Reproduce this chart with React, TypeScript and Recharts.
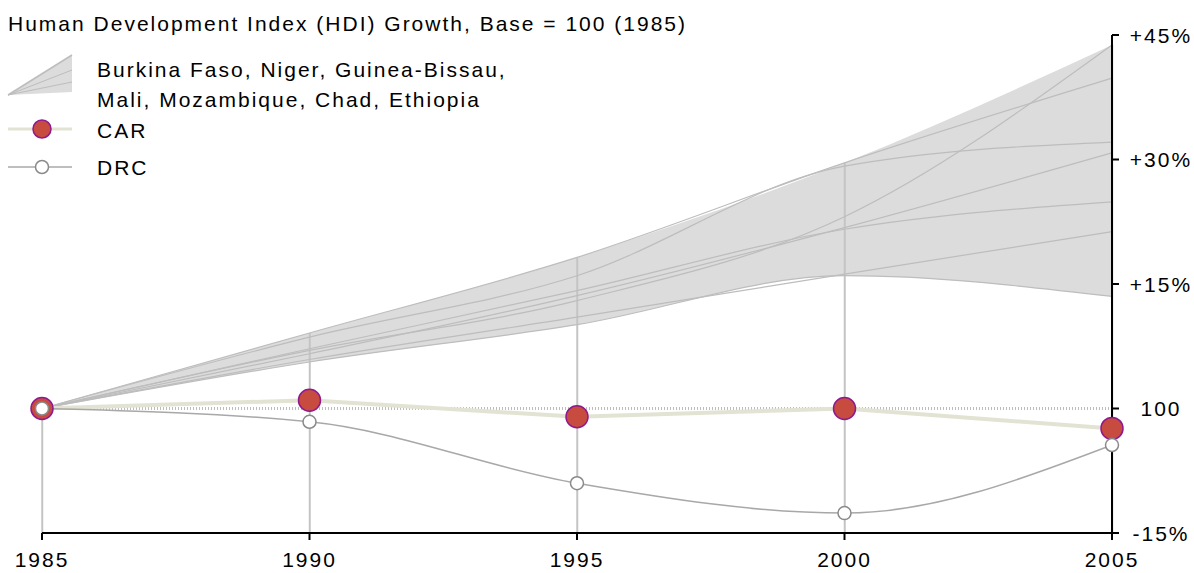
import React from 'react';
import {
  ComposedChart,
  XAxis,
  YAxis,
  Area,
  Line,
  Bar,
  ReferenceLine,
} from 'recharts';

// Data (index growth vs 1985, in %)
const years = [1985, 1990, 1995, 2000, 2005];
const burkinaFaso = [0, 9.1, 18.2, 29.6, 39.8];
const niger = [0, 7.0, 13.0, 23.1, 43.8];
const guineaBissau = [0, 8.6, 16.0, 29.2, 32.1];
const mali = [0, 6.6, 13.6, 21.8, 30.8];
const mozambique = [0, 7.2, 14.2, 21.6, 24.9];
const chad = [0, 5.9, 11.0, 16.2, 21.3];
const ethiopia = [0, 5.6, 10.1, 16.0, 13.5];
const car = [0, 1.0, -1.0, 0.0, -2.4];
const drc = [0, -1.6, -9.0, -12.6, -4.4];
const yTicks = [-15, 0, 15, 30, 45];

const groupKeys = ['burkinaFaso', 'niger', 'guineaBissau', 'mali', 'mozambique', 'chad', 'ethiopia'];
const groupSeries = [burkinaFaso, niger, guineaBissau, mali, mozambique, chad, ethiopia];

// Style
const WIDTH = 1194;
const HEIGHT = 573;
const FONT = '"Liberation Sans", Arial, sans-serif';
const FONT_SIZE = 21;
const SPACING = 2;
const BAND_FILL = '#dcdcdc';
const BAND_LINE = '#bdbdbd';
const DROP_LINE = '#c4c4c4';
const CAR_LINE = '#e3e3d3';
const CAR_FILL = '#c84b3f';
const CAR_STROKE = '#8e1a8e';
const DRC_LINE = '#a8a8a8';
const DRC_STROKE = '#8a8a8a';

const data = years.map((year, i) => {
  const row: Record<string, number> = { year };
  groupKeys.forEach((k, j) => {
    row[k] = groupSeries[j][i];
  });
  const vals = groupSeries.map((s) => s[i]);
  row.bandMin = Math.min(...vals);
  row.bandMax = Math.max(...vals);
  row.car = car[i];
  row.drc = drc[i];
  return row;
});

const formatY = (v: number) => (v === 0 ? '100' : v > 0 ? `+${v}%` : `${v}%`);

function YTick(props: any) {
  const { x, y, payload } = props;
  return (
    <text
      x={x + 42}
      y={y}
      textAnchor="middle"
      dominantBaseline="central"
      fontSize={FONT_SIZE}
      letterSpacing={SPACING}
      fontFamily={FONT}
      fill="#000"
    >
      {formatY(payload.value)}
    </text>
  );
}

function CarDot(props: any) {
  const { cx, cy } = props;
  if (cx == null || cy == null) return null;
  return <circle cx={cx} cy={cy} r={11} fill={CAR_FILL} stroke={CAR_STROKE} strokeWidth={1.5} />;
}

function DrcDot(props: any) {
  const { cx, cy } = props;
  if (cx == null || cy == null) return null;
  return <circle cx={cx} cy={cy} r={6.5} fill="#fff" stroke={DRC_STROKE} strokeWidth={1.5} />;
}

function LegendOverlay() {
  const textProps = {
    fontSize: FONT_SIZE,
    letterSpacing: SPACING,
    fontFamily: FONT,
    fill: '#000',
  };
  return (
    <svg
      width={WIDTH}
      height={200}
      style={{ position: 'absolute', left: 0, top: 0, pointerEvents: 'none' }}
    >
      <text x={8} y={31} {...textProps}>
        Human Development Index (HDI) Growth, Base = 100 (1985)
      </text>
      <polygon points="8,95 72,55 72,92" fill={BAND_FILL} />
      <line x1={8} y1={95} x2={72} y2={55} stroke={BAND_LINE} strokeWidth={1.5} />
      <line x1={8} y1={95} x2={72} y2={70} stroke={BAND_LINE} strokeWidth={1} />
      <line x1={8} y1={95} x2={72} y2={82} stroke={BAND_LINE} strokeWidth={1} />
      <text x={97} y={77} {...textProps}>
        Burkina Faso, Niger, Guinea-Bissau,
      </text>
      <text x={97} y={107} {...textProps}>
        Mali, Mozambique, Chad, Ethiopia
      </text>
      <line x1={8} y1={129} x2={72} y2={129} stroke={CAR_LINE} strokeWidth={3} />
      <circle cx={42} cy={129} r={9} fill={CAR_FILL} stroke={CAR_STROKE} strokeWidth={1.5} />
      <text x={97} y={138} {...textProps}>
        CAR
      </text>
      <line x1={8} y1={167} x2={72} y2={167} stroke={DRC_LINE} strokeWidth={1.5} />
      <circle cx={42} cy={167} r={6.5} fill="#fff" stroke={DRC_STROKE} strokeWidth={1.5} />
      <text x={97} y={175} {...textProps}>
        DRC
      </text>
    </svg>
  );
}

export default function App() {
  return (
    <div
      style={{
        position: 'absolute',
        left: 0,
        top: 0,
        width: WIDTH,
        height: HEIGHT,
        background: '#fff',
        fontFamily: FONT,
      }}
    >
      <ComposedChart
        width={WIDTH}
        height={HEIGHT}
        data={data}
        margin={{ top: 35, right: 0, bottom: 0, left: 42 }}
      >
        <XAxis
          dataKey="year"
          type="number"
          domain={[1985, 2005]}
          ticks={years}
          height={40}
          axisLine={{ stroke: '#000', strokeWidth: 2 }}
          tickLine={{ stroke: '#000', strokeWidth: 2 }}
          tickSize={7}
          tickMargin={12}
          tick={{ fill: '#000', fontSize: FONT_SIZE, letterSpacing: SPACING, fontFamily: FONT }}
        />
        <YAxis
          orientation="right"
          width={82}
          type="number"
          domain={[-15, 45]}
          ticks={yTicks}
          allowDataOverflow
          axisLine={{ stroke: '#000', strokeWidth: 2 }}
          tickLine={{ stroke: '#000', strokeWidth: 2 }}
          tickSize={7}
          tickMargin={0}
          tick={<YTick />}
        />
        <Area
          type="monotone"
          dataKey={(d: any) => [d.bandMin, d.bandMax]}
          fill={BAND_FILL}
          fillOpacity={1}
          stroke="none"
          isAnimationActive={false}
        />
        <Bar
          dataKey={(d: any) => [-15, d.bandMax]}
          barSize={2}
          fill={DROP_LINE}
          isAnimationActive={false}
        />
        {groupKeys.map((k) => (
          <Line
            key={k}
            type="monotone"
            dataKey={k}
            stroke={BAND_LINE}
            strokeWidth={1.2}
            dot={false}
            activeDot={false}
            isAnimationActive={false}
          />
        ))}
        <ReferenceLine y={0} stroke="#bdbdbd" strokeWidth={3} strokeDasharray="1 2" />
        <Line
          type="linear"
          dataKey="car"
          stroke={CAR_LINE}
          strokeWidth={4}
          dot={<CarDot />}
          activeDot={false}
          isAnimationActive={false}
        />
        <Line
          type="monotone"
          dataKey="drc"
          stroke={DRC_LINE}
          strokeWidth={1.5}
          dot={<DrcDot />}
          activeDot={false}
          isAnimationActive={false}
        />
      </ComposedChart>
      <LegendOverlay />
    </div>
  );
}
